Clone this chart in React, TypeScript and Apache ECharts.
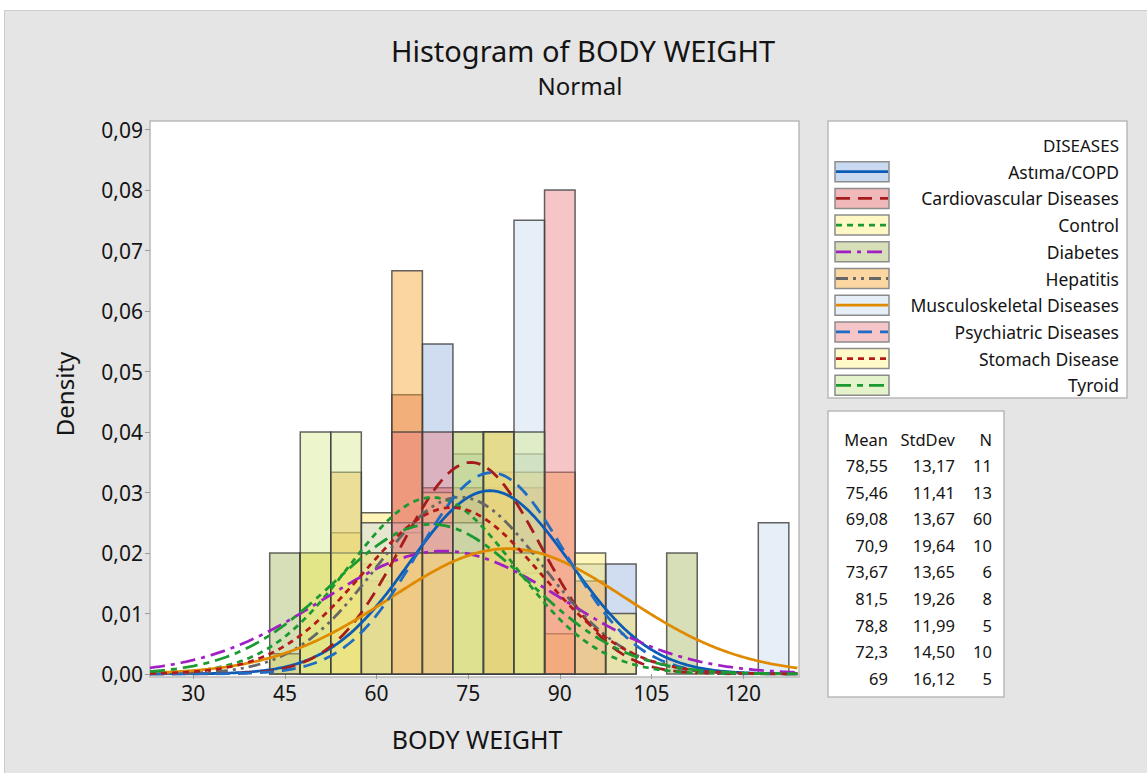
import React, { useEffect, useRef } from "react";
import * as echarts from "echarts";

// ---------- data ----------
const groups = [
  "Astıma/COPD",
  "Cardiovascular Diseases",
  "Control",
  "Diabetes",
  "Hepatitis",
  "Musculoskeletal Diseases",
  "Psychiatric Diseases",
  "Stomach Disease",
  "Tyroid",
];
const means = [78.55, 75.46, 69.08, 70.9, 73.67, 81.5, 78.8, 72.3, 69];
const stdevs = [13.17, 11.41, 13.67, 19.64, 13.65, 19.26, 11.99, 14.5, 16.12];
const ns = [11, 13, 60, 10, 6, 8, 5, 10, 5];
const meanLabels = ["78,55", "75,46", "69,08", "70,9", "73,67", "81,5", "78,8", "72,3", "69"];
const stdevLabels = ["13,17", "11,41", "13,67", "19,64", "13,65", "19,26", "11,99", "14,50", "16,12"];

const binWidth = 5;
const binCenters = [45, 50, 55, 60, 65, 70, 75, 80, 85, 90, 95, 100, 105, 110, 115, 120, 125];
const astimaCounts = [0, 0, 0, 1, 0, 3, 2, 1, 2, 0, 1, 1, 0, 0, 0, 0, 0];
const cardioCounts = [0, 0, 0, 1, 3, 2, 2, 2, 2, 0, 1, 0, 0, 0, 0, 0, 0];
const controlCounts = [1, 6, 7, 8, 7, 9, 6, 6, 5, 2, 0, 3, 0, 0, 0, 0, 0];
const diabetesCounts = [1, 1, 0, 1, 1, 1, 2, 2, 0, 0, 0, 0, 0, 1, 0, 0, 0];
const hepatitisCounts = [0, 0, 1, 0, 2, 0, 0, 1, 1, 1, 0, 0, 0, 0, 0, 0, 0];
const musculoCounts = [0, 0, 0, 1, 1, 1, 1, 0, 3, 0, 0, 0, 0, 0, 0, 0, 1];
const psychCounts = [0, 0, 0, 0, 1, 1, 0, 1, 0, 2, 0, 0, 0, 0, 0, 0, 0];
const stomachCounts = [0, 1, 1, 1, 1, 1, 1, 2, 1, 0, 1, 0, 0, 0, 0, 0, 0];
const tyroidCounts = [0, 1, 1, 0, 0, 0, 1, 1, 1, 0, 0, 0, 0, 0, 0, 0, 0];
const allCounts = [
  astimaCounts, cardioCounts, controlCounts, diabetesCounts, hepatitisCounts,
  musculoCounts, psychCounts, stomachCounts, tyroidCounts,
];

const xTicks = [30, 45, 60, 75, 90, 105, 120];
const yTicks = [0, 0.01, 0.02, 0.03, 0.04, 0.05, 0.06, 0.07, 0.08, 0.09];

// ---------- styles ----------
const FONT = "'Noto Sans', 'Open Sans', sans-serif";
const TEXT = "#141414";
const barFill = [
  "rgba(151,177,222,0.45)",
  "rgba(222,97,97,0.45)",
  "rgba(255,232,110,0.5)",
  "rgba(164,184,97,0.45)",
  "rgba(246,164,44,0.45)",
  "rgba(199,217,237,0.45)",
  "rgba(233,126,133,0.45)",
  "rgba(255,238,120,0.5)",
  "rgba(215,232,142,0.45)",
];
const swatch = [
  "#c9daf0", "#f0b8b8", "#fff8c4", "#d6dfb8", "#fbd6a0",
  "#e6eef7", "#f5c5c8", "#fffac8", "#e5f3cc",
];
const lineColor = [
  "#0b5cb5", "#a51c1c", "#1a9a30", "#a020c4", "#666666",
  "#e08a00", "#1f6cc4", "#b31b1b", "#1a9a30",
];
const lineDash: (number[] | null)[] = [
  null,
  [14, 8],
  [6, 5],
  [15, 6, 4, 6],
  [12, 5, 3, 5, 3, 5],
  null,
  [14, 8],
  [6, 5],
  [15, 6, 6, 6],
];

const X_MIN = 22.9;
const X_MAX = 129;

export default function App() {
  const ref = useRef<HTMLDivElement>(null);

  useEffect(() => {
    if (!ref.current) return;
    const chart = echarts.init(ref.current, null, { renderer: "svg" });

    const barSeries = allCounts.map((counts, g) => ({
      type: "custom",
      name: groups[g] + " bars",
      z: 2,
      clip: false,
      encode: { x: 0, y: 1 },
      data: binCenters
        .map((c, i) => [c, counts[i] / (ns[g] * binWidth)])
        .filter((d) => d[1] > 0),
      renderItem: (params: any, api: any) => {
        const c = api.value(0);
        const h = api.value(1);
        const p0 = api.coord([c - binWidth / 2, h]);
        const p1 = api.coord([c + binWidth / 2, 0]);
        return {
          type: "rect",
          shape: { x: p0[0], y: p0[1], width: p1[0] - p0[0], height: p1[1] - p0[1] },
          style: { fill: barFill[g], stroke: "rgba(60,60,60,0.8)", lineWidth: 1.5 },
        };
      },
    }));

    const xs: number[] = [];
    for (let x = X_MIN; x <= X_MAX + 1e-9; x += 0.25) xs.push(x);
    const curveSeries = groups.map((name, g) => ({
      type: "line",
      name,
      z: 4,
      showSymbol: false,
      symbol: "none",
      smooth: false,
      data: xs.map((x) => {
        const z = (x - means[g]) / stdevs[g];
        return [x, Math.exp(-0.5 * z * z) / (stdevs[g] * Math.sqrt(2 * Math.PI))];
      }),
      lineStyle: {
        color: lineColor[g],
        width: 2.8,
        type: lineDash[g] ? lineDash[g] : "solid",
      },
    }));

    const graphics: any[] = [];
    // panel background
    graphics.push({
      type: "rect", z: -100, silent: true,
      shape: { x: 4.5, y: 10.5, width: 1150, height: 770 },
      style: { fill: "#e5e5e5", stroke: "#cdcdcd", lineWidth: 1 },
    });
    // plot area
    graphics.push({
      type: "rect", z: -50, silent: true,
      shape: { x: 150, y: 121, width: 649, height: 556 },
      style: { fill: "#ffffff", stroke: "#b9b9b9", lineWidth: 1.5 },
    });
    // titles
    graphics.push({
      type: "text", z: 10, x: 583, y: 50,
      style: { text: "Histogram of BODY WEIGHT", fontSize: 29, fontFamily: FONT, fill: TEXT, align: "center", verticalAlign: "middle" },
    });
    graphics.push({
      type: "text", z: 10, x: 580, y: 85,
      style: { text: "Normal", fontSize: 24, fontFamily: FONT, fill: TEXT, align: "center", verticalAlign: "middle" },
    });
    graphics.push({
      type: "text", z: 10, x: 477, y: 739,
      style: { text: "BODY WEIGHT", fontSize: 25, fontFamily: FONT, fill: TEXT, align: "center", verticalAlign: "middle" },
    });
    graphics.push({
      type: "text", z: 10, x: 64, y: 394, rotation: Math.PI / 2,
      style: { text: "Density", fontSize: 24, fontFamily: FONT, fill: TEXT, align: "center", verticalAlign: "middle" },
    });

    // legend box
    graphics.push({
      type: "rect", z: 5,
      shape: { x: 828, y: 121, width: 299, height: 277 },
      style: { fill: "#ffffff", stroke: "#b9b9b9", lineWidth: 1.5 },
    });
    graphics.push({
      type: "text", z: 10, x: 1119, y: 145,
      style: { text: "DISEASES", fontSize: 17, fontFamily: FONT, fill: TEXT, align: "right", verticalAlign: "middle" },
    });
    groups.forEach((name, g) => {
      const cy = 171.7 + g * 26.7;
      graphics.push({
        type: "rect", z: 10,
        shape: { x: 835, y: cy - 10, width: 54, height: 20 },
        style: { fill: swatch[g], stroke: "#8c8c8c", lineWidth: 1.5 },
      });
      graphics.push({
        type: "line", z: 11,
        shape: { x1: 836, y1: cy, x2: 888, y2: cy },
        style: { stroke: lineColor[g], lineWidth: 2.8, lineDash: lineDash[g] || undefined },
      });
      graphics.push({
        type: "text", z: 10, x: 1119, y: cy,
        style: { text: name, fontSize: 17.5, fontFamily: FONT, fill: TEXT, align: "right", verticalAlign: "middle" },
      });
    });

    // stats box
    graphics.push({
      type: "rect", z: 5,
      shape: { x: 828, y: 411, width: 176, height: 286 },
      style: { fill: "#ffffff", stroke: "#b9b9b9", lineWidth: 1.5 },
    });
    const header = [["Mean", 888], ["StdDev", 955], ["N", 992]] as [string, number][];
    header.forEach(([t, x]) => {
      graphics.push({
        type: "text", z: 10, x, y: 439,
        style: { text: t, fontSize: 16.5, fontFamily: FONT, fill: TEXT, align: "right", verticalAlign: "middle" },
      });
    });
    groups.forEach((_, g) => {
      const cy = 465.5 + g * 26.6;
      const cells = [[meanLabels[g], 888], [stdevLabels[g], 955], [String(ns[g]), 992]] as [string, number][];
      cells.forEach(([t, x]) => {
        graphics.push({
          type: "text", z: 10, x, y: cy,
          style: { text: t, fontSize: 16.5, fontFamily: FONT, fill: TEXT, align: "right", verticalAlign: "middle" },
        });
      });
    });

    const option: any = {
      animation: false,
      backgroundColor: "#ffffff",
      grid: { left: 150, top: 129.5, width: 648, height: 544.5, containLabel: false },
      xAxis: {
        type: "value",
        min: X_MIN,
        max: X_MAX,
        offset: 3,
        axisLine: { show: false },
        splitLine: { show: false },
        axisTick: { show: true, length: 5, lineStyle: { color: "#9a9a9a", width: 1 }, customValues: xTicks },
        axisLabel: { customValues: xTicks, fontSize: 21, color: TEXT, margin: 5, fontFamily: FONT },
      },
      yAxis: {
        type: "value",
        min: 0,
        max: 0.09,
        interval: 0.01,
        axisLine: { show: false },
        splitLine: { show: false },
        axisTick: { show: true, length: 5, lineStyle: { color: "#9a9a9a", width: 1 }, customValues: yTicks },
        axisLabel: {
          customValues: yTicks,
          fontSize: 21,
          color: TEXT,
          margin: 7,
          fontFamily: FONT,
          formatter: (v: number) => v.toFixed(2).replace(".", ","),
        },
      },
      series: [...barSeries, ...curveSeries],
      graphic: { elements: graphics },
    };
    chart.setOption(option);
    return () => chart.dispose();
  }, []);

  return (
    <div
      ref={ref}
      style={{ position: "absolute", left: 0, top: 0, width: 1147, height: 773 }}
    />
  );
}
